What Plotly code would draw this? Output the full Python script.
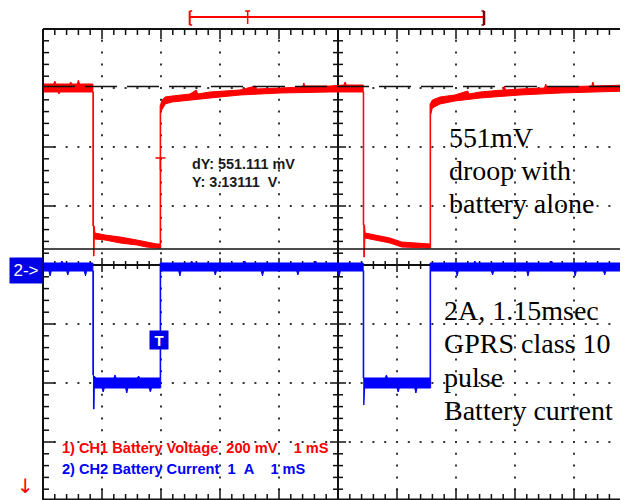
import plotly.graph_objects as go

# ---------------- data (time in ms, CH1 in volts, CH2 in amps) ----------------
red_hi_t = [0.00, 0.18, 0.20, 0.22, 0.45, 0.47, 0.49, 0.58, 0.60, 0.62, 0.845,
            0.845, 0.87, 0.88, 1.05, 1.31, 1.59, 1.75, 1.93, 1.985,
            1.985, 2.02, 2.07, 2.19, 2.49, 2.60, 2.62, 2.83, 3.34, 3.60, 3.62, 4.02,
            4.40, 4.42, 4.44, 4.86, 5.10, 5.12, 5.14, 5.427,
            5.427, 5.45, 5.46, 5.63, 5.88, 6.08, 6.53, 6.56,
            6.56, 6.60, 6.73, 6.98, 7.20, 7.22, 7.41, 7.80, 7.82, 7.84, 8.08,
            8.50, 8.52, 8.54, 8.76, 9.30, 9.32, 9.34, 9.92]
red_hi_v = [3.6907, 3.6907, 3.7009, 3.6907, 3.6907, 3.6975, 3.6907, 3.6907, 3.7043, 3.6907, 3.6907,
            3.2093, 3.2093, 3.1856, 3.1788, 3.1720, 3.1619, 3.1551, 3.1483, 3.1483,
            3.6161, 3.6365, 3.6466, 3.6500, 3.6568, 3.6704, 3.6568, 3.6636, 3.6704, 3.6839, 3.6738, 3.6771,
            3.6805, 3.6941, 3.6839, 3.6839, 3.6873, 3.6975, 3.6873, 3.6873,
            3.2127, 3.2127, 3.1856, 3.1788, 3.1687, 3.1551, 3.1483, 3.1483,
            3.6229, 3.6365, 3.6466, 3.6534, 3.6670, 3.6568, 3.6636, 3.6704, 3.6839, 3.6704, 3.6738,
            3.6771, 3.6907, 3.6805, 3.6805, 3.6839, 3.6975, 3.6839, 3.6873]
red_lo_t = [0.00, 0.25, 0.27, 0.29, 0.855,
            0.855, 0.865, 0.87, 0.88, 1.05, 1.31, 1.59, 1.75, 1.93, 1.995,
            1.995, 2.07, 2.19, 2.49, 2.83, 3.34, 4.02, 4.86, 5.437,
            5.437, 5.447, 5.455, 5.63, 5.88, 6.08, 6.53, 6.57,
            6.57, 6.60, 6.73, 6.98, 7.41, 8.08, 8.76, 9.92]
red_lo_v = [3.6636, 3.6636, 3.6568, 3.6636, 3.6636,
            3.1076, 3.1076, 3.1687, 3.1653, 3.1619, 3.1517, 3.1449, 3.1381, 3.1348, 3.1348,
            3.5958, 3.6229, 3.6297, 3.6365, 3.6432, 3.6534, 3.6602, 3.6636, 3.6636,
            3.1042, 3.1042, 3.1687, 3.1619, 3.1517, 3.1381, 3.1348, 3.1348,
            3.5856, 3.6094, 3.6229, 3.6331, 3.6432, 3.6534, 3.6602, 3.6670]

blue_hi_t = [0.00, 0.30, 0.32, 0.34, 0.845,
             0.845, 0.90, 1.20, 1.22, 1.24, 1.60, 1.62, 1.64, 1.985,
             1.985, 2.50, 2.52, 2.54, 3.40, 3.42, 3.44, 4.60, 4.62, 4.64, 5.427,
             5.427, 5.80, 5.82, 5.84, 6.56,
             6.56, 7.30, 7.32, 7.34, 8.60, 8.62, 8.64, 9.92]
blue_hi_a = [0.034, 0.034, 0.068, 0.034, 0.034,
             -1.864, -1.915, -1.915, -1.864, -1.915, -1.915, -1.881, -1.915, -1.915,
             0.034, 0.034, 0.068, 0.034, 0.034, 0.068, 0.034, 0.034, 0.068, 0.034, 0.034,
             -1.915, -1.915, -1.864, -1.915, -1.915,
             0.034, 0.034, 0.068, 0.034, 0.034, 0.068, 0.034, 0.034]
blue_lo_t = [0.00, 0.10, 0.12, 0.14, 0.40, 0.42, 0.44, 0.70, 0.72, 0.74, 0.855,
             0.855, 0.865, 0.87, 1.00, 1.02, 1.04, 1.40, 1.42, 1.44, 1.80, 1.82, 1.84, 1.995,
             1.995, 2.30, 2.32, 2.34, 2.90, 2.92, 2.94, 3.70, 3.72, 3.74, 4.30, 4.32, 4.34,
             5.00, 5.02, 5.04, 5.437,
             5.437, 5.447, 5.452, 6.00, 6.02, 6.04, 6.30, 6.32, 6.34, 6.57,
             6.57, 7.00, 7.02, 7.04, 7.60, 7.62, 7.64, 8.20, 8.22, 8.24, 9.00, 9.02, 9.04,
             9.50, 9.52, 9.54, 9.92]
blue_lo_a = [-0.102, -0.102, -0.186, -0.102, -0.102, -0.169, -0.102, -0.102, -0.186, -0.102, -0.102,
             -2.441, -2.441, -2.085, -2.085, -2.153, -2.085, -2.085, -2.170, -2.085, -2.085, -2.153, -2.085, -2.085,
             -0.102, -0.102, -0.186, -0.102, -0.102, -0.169, -0.102, -0.102, -0.186, -0.102, -0.102, -0.169, -0.102,
             -0.102, -0.186, -0.102, -0.102,
             -2.373, -2.373, -2.085, -2.085, -2.153, -2.085, -2.085, -2.170, -2.085, -2.085,
             -0.102, -0.102, -0.186, -0.102, -0.102, -0.169, -0.102, -0.102, -0.186, -0.102, -0.102, -0.186, -0.102,
             -0.102, -0.169, -0.102, -0.102]

cursor_upper_v = 3.68222
cursor_lower_v = 3.13111
trigger_t = 1.99
trigger_level_v = 3.44
bracket_t = [2.486, 3.469, 7.475]   # start, trigger mark, end (ms)

readout_lines = ["dY: 551.111 mV", "Y: 3.13111\u00a0\u00a0V"]
legend_lines = ["1) CH1 Battery Voltage\u00a0\u00a0200 mV\u00a0\u00a0\u00a0 1 mS",
                "2) CH2 Battery Current\u00a0\u00a01\u00a0\u00a0A\u00a0\u00a0\u00a0 1 mS"]
note1_lines = ["551mV", "droop with", "battery alone"]
note2_lines = ["2A, 1.15msec", "GPRS class 10", "pulse", "Battery current"]

# ---------------- geometry (page has an 8px body margin) ----------------
OFF = 8
W, H = 628 - OFF, 500 - OFF
L, T = 43 - OFF, 29 - OFF
PW, PH = W - L, H - T
DIV = 59.0
X_MAX = PW / DIV
A_TOP = 4.0
A_BOT = A_TOP - PH / DIV
V_PER_DIV = 0.2
V_TOP = 3.87714
V_BOT = V_TOP - PH / DIV * V_PER_DIV

RED = "#ff0000"
BLUE = "#0000ff"
INK = "#111111"


def pxx(x):
    """screen pixel x -> paper"""
    return (x - OFF - L) / PW


def pxy(y):
    """screen pixel y -> paper"""
    return (H - (y - OFF)) / PH


fig = go.Figure()

# ---------------- graticule dots ----------------
dot_x, dot_y = [], []
for k in [1, 2, 3, 4, 6, 7, 8, 9]:
    for j in range(-19, 20):
        dot_x.append(k)
        dot_y.append(round(j * 0.2, 6))
for j in [-3, -2, -1, 1, 2, 3]:
    for k in range(1, 50):
        dot_x.append(round(k * 0.2, 6))
        dot_y.append(j)
fig.add_trace(go.Scatter(x=dot_x, y=dot_y, mode="markers",
                         marker=dict(size=2, color="#333333", symbol="square"),
                         hoverinfo="skip", showlegend=False))

# ---------------- ticks ----------------
tx, ty = [], []


def seg(x0, y0, x1, y1):
    tx.extend([x0, x1, None])
    ty.extend([y0, y1, None])


p = 1.0 / DIV
for k in range(1, 50):
    x = round(k * 0.2, 6)
    major = (k % 5 == 0)
    ln = (10 if major else 6) * p
    seg(x, A_TOP, x, A_TOP - ln)
    seg(x, -4.0, x, -4.0 + (12 if major else 7) * p)
    h = (7 if major else 4) * p
    seg(x, -h, x, h)
for j in range(-19, 20):
    y = round(j * 0.2, 6)
    major = (j % 5 == 0)
    seg(0, y, (12 if major else 6) * p, y)
    h = (8 if major else 5) * p
    seg(5 - h, y, 5 + h, y)
fig.add_trace(go.Scatter(x=tx, y=ty, mode="lines", line=dict(color=INK, width=1.5),
                         hoverinfo="skip", showlegend=False))

# ---------------- traces ----------------
fig.add_trace(go.Scatter(x=blue_hi_t + blue_lo_t[::-1], y=blue_hi_a + blue_lo_a[::-1],
                         mode="lines", fill="toself", fillcolor=BLUE,
                         line=dict(color=BLUE, width=1), hoverinfo="skip", showlegend=False))
fig.add_trace(go.Scatter(x=red_hi_t + red_lo_t[::-1], y=red_hi_v + red_lo_v[::-1],
                         mode="lines", fill="toself", fillcolor=RED, yaxis="y2",
                         line=dict(color=RED, width=1), hoverinfo="skip", showlegend=False))

# ---------------- cursors ----------------
fig.add_trace(go.Scatter(x=[0, X_MAX], y=[cursor_upper_v] * 2, yaxis="y2", mode="lines",
                         line=dict(color=INK, width=1.5, dash="32px,10px"),
                         hoverinfo="skip", showlegend=False))
fig.add_trace(go.Scatter(x=[0, X_MAX], y=[cursor_lower_v] * 2, yaxis="y2", mode="lines",
                         line=dict(color=INK, width=1.5), hoverinfo="skip", showlegend=False))
# trigger level marker on CH1
tl_drop = 12 * V_PER_DIV / DIV
fig.add_trace(go.Scatter(x=[trigger_t - 5 * p, trigger_t + 5 * p, None, trigger_t, trigger_t],
                         y=[trigger_level_v, trigger_level_v, None, trigger_level_v, trigger_level_v - tl_drop],
                         yaxis="y2", mode="lines", line=dict(color=RED, width=1.5),
                         hoverinfo="skip", showlegend=False))

# ---------------- shapes: frame, centre axis, top bracket ----------------
shapes = [
    dict(type="line", xref="paper", yref="paper", x0=0, x1=1, y0=1, y1=1, line=dict(color=INK, width=2)),
    dict(type="line", xref="paper", yref="paper", x0=0, x1=0, y0=0, y1=1, line=dict(color=INK, width=2)),
    dict(type="line", xref="paper", yref="paper", x0=0, x1=1, y0=pxy(499.5), y1=pxy(499.5), line=dict(color=INK, width=2)),
    dict(type="line", xref="x", yref="paper", x0=5, x1=5, y0=0, y1=1, line=dict(color=INK, width=2), layer="below"),
    dict(type="line", xref="paper", yref="y", x0=0, x1=1, y0=0, y1=0, line=dict(color=INK, width=2), layer="below"),
]
bx0, btr, bx1 = [t / X_MAX for t in bracket_t]
yb_mid, yb_top, yb_bot = pxy(17), pxy(11), pxy(25)
dx2 = 2.5 / PW
shapes += [
    dict(type="line", xref="paper", yref="paper", x0=bx0, x1=bx1, y0=yb_mid, y1=yb_mid, line=dict(color=RED, width=2)),
    dict(type="line", xref="paper", yref="paper", x0=bx0, x1=bx0, y0=yb_top, y1=yb_bot, line=dict(color=RED, width=2)),
    dict(type="line", xref="paper", yref="paper", x0=bx0, x1=bx0 + dx2, y0=yb_top, y1=yb_top, line=dict(color=RED, width=1.5)),
    dict(type="line", xref="paper", yref="paper", x0=bx0, x1=bx0 + dx2, y0=yb_bot, y1=yb_bot, line=dict(color=RED, width=1.5)),
    dict(type="line", xref="paper", yref="paper", x0=btr, x1=btr, y0=yb_top, y1=pxy(24), line=dict(color=RED, width=1.5)),
    dict(type="line", xref="paper", yref="paper", x0=btr - dx2, x1=btr + dx2, y0=yb_top, y1=yb_top, line=dict(color=RED, width=1.5)),
    dict(type="line", xref="paper", yref="paper", x0=bx1, x1=bx1, y0=yb_top, y1=yb_bot, line=dict(color="#7a0000", width=2.5)),
    dict(type="line", xref="paper", yref="paper", x0=bx1 - dx2, x1=bx1, y0=yb_top, y1=yb_top, line=dict(color="#7a0000", width=1.5)),
    dict(type="line", xref="paper", yref="paper", x0=bx1 - dx2, x1=bx1, y0=yb_bot, y1=yb_bot, line=dict(color="#7a0000", width=1.5)),
]

# ---------------- annotations ----------------
ann = []
SERIF = "Liberation Serif"
SANS = "Liberation Sans"


def text(x, y, s, size, color, family, weight="normal"):
    ann.append(dict(xref="paper", yref="paper", x=pxx(x), y=pxy(y), text=s, showarrow=False,
                    xanchor="left", yanchor="middle", borderpad=0,
                    font=dict(size=size, color=color, family=family, weight=weight)))


for i, s in enumerate(note1_lines):
    text(448, 137.5 + 33 * i, s, 28, "#000000", SERIF)
for i, s in enumerate(note2_lines):
    text(443, 310.5 + 33.3 * i, s, 28, "#000000", SERIF)
for i, s in enumerate(readout_lines):
    text(191, 163.5 + 18 * i, s, 14.4, "#1a1a1a", SANS, "bold")
text(61, 448, legend_lines[0], 14.6, RED, SANS, "bold")
text(61, 468.5, legend_lines[1], 14.6, BLUE, SANS, "bold")

ann.append(dict(xref="paper", yref="paper", x=pxx(43), y=pxy(270.5), text="2->", showarrow=False,
                xanchor="right", yanchor="middle", bgcolor="#0000e6", borderpad=2, width=28, height=21,
                font=dict(size=17, color="#ffffff", family=SANS)))
ann.append(dict(xref="paper", yref="paper", x=pxx(159), y=pxy(340), text="T", showarrow=False,
                xanchor="center", yanchor="middle", bgcolor="#0000e6", borderpad=2, width=14, height=14,
                font=dict(size=15, color="#ffffff", family=SANS, weight="bold")))
ann.append(dict(xref="paper", yref="paper", x=pxx(25), y=pxy(486), text="\u2193", showarrow=False,
                xanchor="center", yanchor="middle",
                font=dict(size=20, color=RED, family="DejaVu Sans")))

fig.update_layout(
    width=W, height=H,
    margin=dict(l=L, r=0, t=T, b=0, pad=0),
    paper_bgcolor="#ffffff", plot_bgcolor="#ffffff",
    xaxis=dict(range=[0, X_MAX], showgrid=False, zeroline=False, showticklabels=False,
               ticks="", showline=False, fixedrange=True),
    yaxis=dict(range=[A_BOT, A_TOP], showgrid=False, zeroline=False, showticklabels=False,
               ticks="", showline=False, fixedrange=True),
    yaxis2=dict(range=[V_BOT, V_TOP], overlaying="y", visible=False, fixedrange=True),
    shapes=shapes,
    annotations=ann,
    showlegend=False,
)

fig.write_html("out.html", config={"displayModeBar": False})
